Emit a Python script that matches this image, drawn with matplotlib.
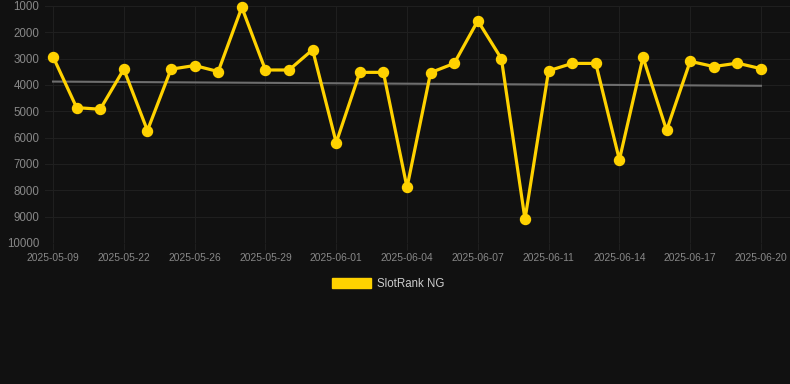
import matplotlib
matplotlib.use("Agg")
import matplotlib.pyplot as plt
from matplotlib.patches import Patch

# dates on a category axis (only every 3rd one is labelled)
dates = ["2025-05-09", "2025-05-14", "2025-05-18", "2025-05-22", "2025-05-23",
         "2025-05-25", "2025-05-26", "2025-05-27", "2025-05-28", "2025-05-29",
         "2025-05-30", "2025-05-31", "2025-06-01", "2025-06-02", "2025-06-03",
         "2025-06-04", "2025-06-05", "2025-06-06", "2025-06-07", "2025-06-08",
         "2025-06-10", "2025-06-11", "2025-06-12", "2025-06-13", "2025-06-14",
         "2025-06-15", "2025-06-16", "2025-06-17", "2025-06-18", "2025-06-19",
         "2025-06-20"]
# rank values (lower is better, axis reversed)
rank = [2925, 4860, 4920, 3400, 5730, 3400, 3260, 3490, 1050, 3430,
        3430, 2660, 6190, 3520, 3520, 7890, 3530, 3180, 1560, 3000,
        9100, 3460, 3180, 3180, 6840, 2950, 5720, 3100, 3300, 3170,
        3380]
# trend line end values
trend = [3870, 4030]
yticks = [1000, 2000, 3000, 4000, 5000, 6000, 7000, 8000, 9000, 10000]

bg = "#111111"
gold = "#FFD200"

plt.rcParams['font.family'] = ['Liberation Sans', 'DejaVu Sans']

fig = plt.figure(figsize=(7.9, 3.84), dpi=100, facecolor=bg)
ax = fig.add_axes([45 / 790, 1 - 243 / 384, 745 / 790, 237 / 384])
ax.set_facecolor(bg)

x = list(range(len(rank)))
ax.plot([x[0], x[-1]], trend, color="#6e6e6e", linewidth=1.5, zorder=2)
ax.plot(x, rank, color=gold, linewidth=2.3, marker="o", markersize=7.2,
        zorder=3, clip_on=False)

ax.set_ylim(10000, 1000)
ax.set_yticks(yticks)
ax.set_yticklabels([str(v) for v in yticks])
ax.set_xlim(-0.34, 31.23)
lab_idx = x[::3]
ax.set_xticks(lab_idx)
ax.set_xticklabels([dates[i] for i in lab_idx])

ax.grid(True, color="#1f1f1f", linewidth=0.8, zorder=0)
for s in ax.spines.values():
    s.set_visible(False)
ax.tick_params(axis="y", length=0, labelsize=8.3, colors="#888888", pad=4)
ax.tick_params(axis="x", length=5, color="#1f1f1f", labelsize=7.4,
               colors="#888888", pad=2)

fig.legend(handles=[Patch(facecolor=gold, edgecolor=gold, label="SlotRank NG")],
           loc="center", bbox_to_anchor=(388 / 790, 1 - 284 / 384),
           frameon=False, fontsize=8.3, labelcolor="#cccccc",
           handlelength=3.4, handleheight=1.0, handletextpad=0.5)

fig.savefig("out.png", dpi=100, facecolor=bg)
